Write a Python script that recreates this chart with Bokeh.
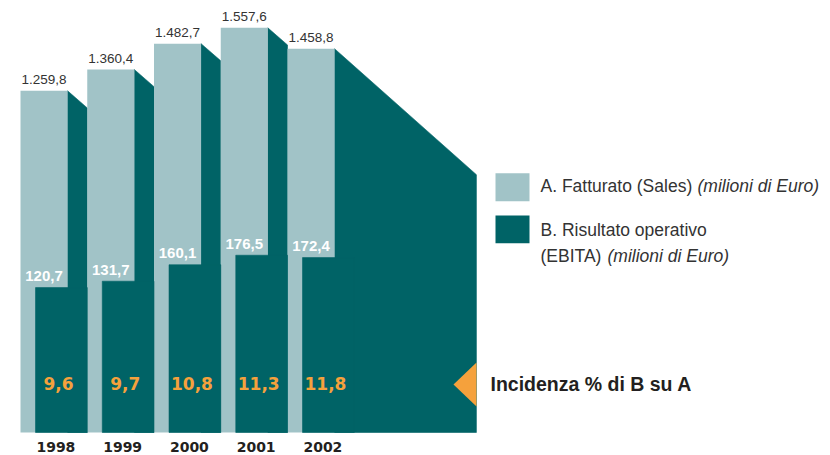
from bokeh.plotting import figure
from bokeh.models import Range1d
from bokeh.core.properties import value
from bokeh.embed import file_html
from bokeh.resources import INLINE

# ---------------- data ----------------
years = ["1998", "1999", "2000", "2001", "2002"]
sales = [1259.8, 1360.4, 1482.7, 1557.6, 1458.8]      # A. Fatturato (milioni di Euro)
ebita = [120.7, 131.7, 160.1, 176.5, 172.4]           # B. Risultato operativo (EBITA)
incidenza = [9.6, 9.7, 10.8, 11.3, 11.8]              # % di B su A

legend_a = ["A. Fatturato (Sales) ", "(milioni di Euro)"]
legend_b = ["B. Risultato operativo", "(EBITA) ", "(milioni di Euro)"]
incidenza_title = "Incidenza % di B su A"


def it_fmt(v):
    s = f"{v:,.1f}"
    return s.replace(",", "X").replace(".", ",").replace("X", ".")


# ---------------- style / layout ----------------
W, H = 830, 455
LIGHT = "#A1C3C7"
DARK = "#006366"
ORANGE = "#F5A13C"
TXT = "#333333"
BLACK = "#231f20"

SLOT_PX = 66.75          # px per category slot
FIRST_PX = 20            # screen x of first bar's left edge
BW = 0.705               # light bar width (slots)
EB_OFF = 0.225           # EBITA bar left offset (slots)

# x range in slot units
X0 = -FIRST_PX / SLOT_PX
X1 = X0 + W / SLOT_PX

# sales axis (non-zero based, like the original infographic)
Y_PX = 0.2115            # px per unit
Y_END = 1686.8
Y_START = Y_END - H / Y_PX
SALES_BASE = -355.75

# EBITA axis
E_PX = 0.58
E_START = -168.8
E_END = E_START + H / E_PX
EBITA_BASE = -129.1

SIDE_SLOPE = 0.87
TAIL_SLOPE = 0.888
TAIL_END_X = 6.83


def sx(px):
    return (px - FIRST_PX) / SLOT_PX


def sy(py):
    return Y_END - py / Y_PX


FONT = value("Liberation Sans")
HEAVY = value("DejaVu Sans")

p = figure(width=W, height=H, x_range=Range1d(X0, X1), y_range=Range1d(Y_START, Y_END),
           output_backend="svg", toolbar_location=None, x_axis_type=None, y_axis_type=None,
           min_border=0, outline_line_color=None)
p.min_border_left = p.min_border_right = p.min_border_top = p.min_border_bottom = 0
p.grid.visible = False
p.background_fill_color = "white"
p.border_fill_color = "white"
p.extra_y_ranges = {"ebita": Range1d(E_START, E_END)}

n = len(years)
idx = list(range(n))

# dark "side" shapes between bars
drop = SIDE_SLOPE * (1 - BW) * SLOT_PX / Y_PX
xs, ys = [], []
for i in range(n - 1):
    xs.append([i + BW, i + 1, i + 1, i + BW])
    ys.append([sales[i], sales[i] - drop, SALES_BASE, SALES_BASE])
tail_drop = TAIL_SLOPE * (TAIL_END_X - (n - 1 + BW)) * SLOT_PX / Y_PX
xs.append([n - 1 + BW, TAIL_END_X, TAIL_END_X, n - 1 + BW])
ys.append([sales[-1], sales[-1] - tail_drop, SALES_BASE, SALES_BASE])
p.patches(xs, ys, fill_color=DARK, line_color=DARK, line_width=0.6)

# A: sales bars
p.quad(left=idx, right=[i + BW for i in idx], bottom=SALES_BASE, top=sales,
       fill_color=LIGHT, line_color=None)

# B: EBITA bars
p.quad(left=[i + EB_OFF for i in idx], right=[i + 1 for i in idx], bottom=EBITA_BASE, top=ebita,
       y_range_name="ebita", fill_color=DARK, line_color=DARK, line_width=0.6)

# labels
p.text(x=[i + BW / 2 for i in idx], y=sales, text=[it_fmt(v) for v in sales],
       text_align="center", text_baseline="middle", y_offset=-11,
       text_font=FONT, text_font_size="13.5px", text_color=TXT)

p.text(x=[i + BW / 2 for i in idx], y=ebita, text=[it_fmt(v) for v in ebita], y_range_name="ebita",
       text_align="center", text_baseline="middle", y_offset=-11.5,
       text_font=FONT, text_font_size="15px", text_font_style="bold", text_color="white")

p.text(x=[i + 0.569 for i in idx], y=[sy(383)] * n, text=[it_fmt(v) for v in incidenza],
       text_align="center", text_baseline="middle",
       text_font=HEAVY, text_font_size="17px", text_font_style="bold", text_color=ORANGE)

p.text(x=[i + 0.53 for i in idx], y=[sy(446.5)] * n, text=years,
       text_align="center", text_baseline="middle",
       text_font=HEAVY, text_font_size="14px", text_font_style="bold", text_color=BLACK)

# orange pointer
p.patch(x=[sx(453), sx(476), sx(476)], y=[sy(384), sy(362), sy(406)],
        fill_color=ORANGE, line_color=None)
p.text(x=[sx(490)], y=[sy(383.5)], text=[incidenza_title], text_baseline="middle",
       text_font=FONT, text_font_size="19.5px", text_font_style="bold", text_color=BLACK)

# legend
p.quad(left=[sx(495)], right=[sx(529)], bottom=[sy(200.7)], top=[sy(172.7)],
       fill_color=LIGHT, line_color=None)
p.quad(left=[sx(495)], right=[sx(529)], bottom=[sy(242.7)], top=[sy(215)],
       fill_color=DARK, line_color=None)
p.text(x=[sx(540)], y=[sy(185)], text=[legend_a[0]], text_baseline="middle",
       text_font=FONT, text_font_size="17.5px", text_color=TXT)
p.text(x=[sx(697)], y=[sy(185)], text=[legend_a[1]], text_baseline="middle",
       text_font=FONT, text_font_size="17.5px", text_font_style="italic", text_color=TXT)
p.text(x=[sx(540)], y=[sy(229.7)], text=[legend_b[0]], text_baseline="middle",
       text_font=FONT, text_font_size="17.5px", text_color=TXT)
p.text(x=[sx(540)], y=[sy(255)], text=[legend_b[1]], text_baseline="middle",
       text_font=FONT, text_font_size="17.5px", text_color=TXT)
p.text(x=[sx(607)], y=[sy(255)], text=[legend_b[2]], text_baseline="middle",
       text_font=FONT, text_font_size="17.5px", text_font_style="italic", text_color=TXT)

open("out.html", "w").write(file_html(p, INLINE))
